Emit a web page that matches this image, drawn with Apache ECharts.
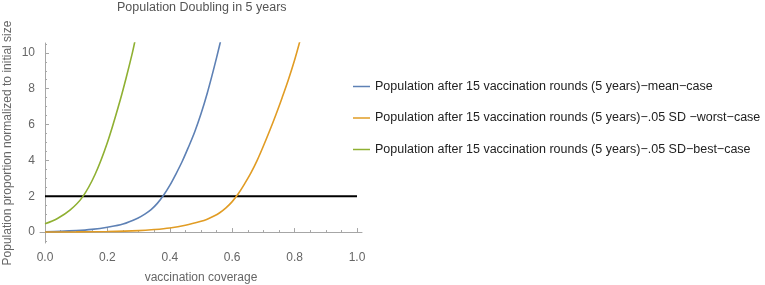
<!DOCTYPE html>
<html>
<head>
<meta charset="utf-8">
<script src="https://cdn.jsdelivr.net/npm/echarts@6/dist/echarts.min.js"></script>
<style>
  html, body { margin: 0; padding: 0; background: #fff; }
  #chart { width: 765px; height: 285px; }
</style>
</head>
<body>
<div id="chart"></div>
<script>
// values
const meanX = [0, 0.05, 0.1, 0.15, 0.2, 0.25, 0.3, 0.32, 0.34, 0.36, 0.38, 0.4, 0.42, 0.44, 0.46, 0.48, 0.5, 0.52, 0.54, 0.56, 0.57]
const meanY = [0.02, 0.04, 0.08, 0.15, 0.27, 0.45, 0.8, 1.0, 1.25, 1.6, 2.05, 2.6, 3.25, 3.95, 4.75, 5.6, 6.6, 7.75, 9.05, 10.45, 11.2]
const worstX = [0, 0.1, 0.2, 0.3, 0.35, 0.4, 0.45, 0.5, 0.52, 0.54, 0.56, 0.58, 0.6, 0.62, 0.64, 0.66, 0.68, 0.7, 0.72, 0.74, 0.76, 0.78, 0.8, 0.82]
const worstY = [0, 0.01, 0.03, 0.08, 0.14, 0.23, 0.38, 0.6, 0.72, 0.88, 1.08, 1.35, 1.7, 2.15, 2.7, 3.3, 4.0, 4.8, 5.65, 6.55, 7.5, 8.5, 9.6, 10.85]
const bestX = [0, 0.04, 0.08, 0.12, 0.16, 0.2, 0.24, 0.26, 0.28, 0.29]
const bestY = [0.46, 0.76, 1.22, 1.95, 3.2, 5.0, 7.3, 8.6, 10.0, 10.8]
const doublingX = [0, 1]
const doublingY = [2, 2]

const names = [
  'Population after 15 vaccination rounds (5 years)\u2212mean\u2212case',
  'Population after 15 vaccination rounds (5 years)\u2212.05 SD \u2212worst\u2212case',
  'Population after 15 vaccination rounds (5 years)\u2212.05 SD\u2212best\u2212case'
]
const xMajor = [0, 0.2, 0.4, 0.6, 0.8, 1.0]
const xMinor = [0.05, 0.1, 0.15, 0.25, 0.3, 0.35, 0.45, 0.5, 0.55, 0.65, 0.7, 0.75, 0.85, 0.9, 0.95]
const yMajor = [0, 2, 4, 6, 8, 10]
const yMinor = [-0.5, 0.5, 1, 1.5, 2.5, 3, 3.5, 4.5, 5, 5.5, 6.5, 7, 7.5, 8.5, 9, 9.5, 10.5]

const zip = (xs, ys) => xs.map((x, i) => [x, ys[i]])

const myChart = echarts.init(document.getElementById('chart'))
const font = 'Liberation Sans, Arial, sans-serif'
const axisGray = '#a6a6a6'
const textGray = '#666'

const lineSeries = (name, xs, ys, color) => ({
  name: name,
  type: 'line',
  data: zip(xs, ys),
  showSymbol: false,
  symbol: 'none',
  smooth: 0.35,
  clip: true,
  lineStyle: { color: color, width: 1.6 },
  itemStyle: { color: color }
})

const option = {
  animation: false,
  title: {
    text: 'Population Doubling in 5 years',
    left: 117,
    top: 1,
    padding: 0,
    textStyle: { fontFamily: font, fontSize: 12.5, fontWeight: 'normal', color: '#555' }
  },
  legend: {
    orient: 'vertical',
    left: 348,
    top: 74,
    icon: 'rect',
    itemWidth: 17,
    itemHeight: 1.5,
    itemGap: 16.5,
    data: names,
    textStyle: { fontFamily: font, fontSize: 12.5, color: '#222', lineHeight: 15 }
  },
  grid: { left: 40, right: 403, top: 43, bottom: 42, outerBoundsMode: 'none' },
  xAxis: [
    {
      type: 'value',
      min: -0.016,
      max: 1.016,
      position: 'bottom',
      name: 'vaccination coverage',
      nameLocation: 'middle',
      nameGap: 29,
      nameTextStyle: { fontFamily: font, fontSize: 12, color: textGray },
      axisLine: { show: true, lineStyle: { color: axisGray, width: 1 } },
      axisTick: { show: true, inside: true, length: 4, customValues: xMajor, lineStyle: { color: axisGray } },
      axisLabel: {
        customValues: xMajor, margin: 9,
        fontFamily: font, fontSize: 12, color: textGray,
        formatter: v => v.toFixed(1)
      },
      splitLine: { show: false }
    },
    {
      type: 'value',
      min: -0.016,
      max: 1.016,
      position: 'bottom',
      axisLine: { show: false },
      axisTick: { show: true, inside: true, length: 2, customValues: xMinor, lineStyle: { color: axisGray } },
      axisLabel: { show: false },
      splitLine: { show: false }
    }
  ],
  yAxis: [
    {
      type: 'value',
      min: -0.61,
      max: 10.55,
      position: 'left',
      name: 'Population proportion normalized to initial size',
      nameLocation: 'middle',
      nameGap: 26,
      nameTextStyle: { fontFamily: font, fontSize: 12, color: textGray },
      axisLine: { show: true, lineStyle: { color: axisGray, width: 1 } },
      axisTick: { show: true, inside: true, length: 4, customValues: yMajor, lineStyle: { color: axisGray } },
      axisLabel: { customValues: yMajor, margin: 5, fontFamily: font, fontSize: 12, color: textGray },
      splitLine: { show: false }
    },
    {
      type: 'value',
      min: -0.61,
      max: 10.55,
      position: 'left',
      axisLine: { show: false },
      axisTick: { show: true, inside: true, length: 2, customValues: yMinor, lineStyle: { color: axisGray } },
      axisLabel: { show: false },
      splitLine: { show: false }
    }
  ],
  series: [
    lineSeries(names[0], meanX, meanY, '#5E81B5'),
    lineSeries(names[1], worstX, worstY, '#E19C24'),
    lineSeries(names[2], bestX, bestY, '#8FB032'),
    {
      name: 'doubling',
      type: 'line',
      data: zip(doublingX, doublingY),
      symbol: 'none',
      lineStyle: { color: '#000', width: 2 },
      z: 1
    }
  ]
}
myChart.setOption(option)
</script>
</body>
</html>
